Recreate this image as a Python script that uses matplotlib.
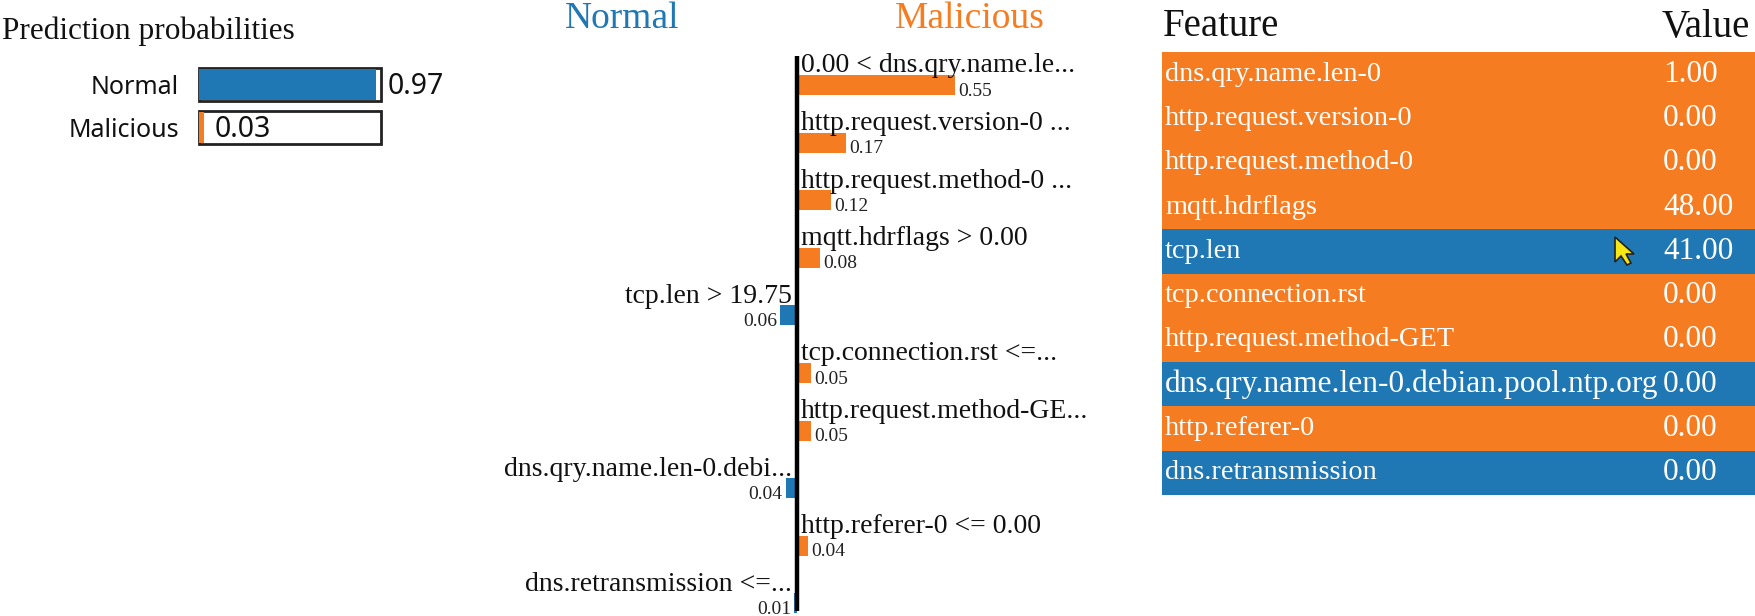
import matplotlib
matplotlib.use("Agg")
import matplotlib.pyplot as plt
from matplotlib.patches import Polygon

W, H = 1755, 616
BLUE = "#1f77b4"
ORANGE = "#f57c20"
SERIF = ["Liberation Serif", "DejaVu Serif"]
SANS = ["Noto Sans", "DejaVu Sans"]

classes = ["Normal", "Malicious"]
probabilities = [0.97, 0.03]

rule_labels = ["0.00 < dns.qry.name.le...", "http.request.version-0 ...", "http.request.method-0 ...",
               "mqtt.hdrflags > 0.00", "tcp.len > 19.75", "tcp.connection.rst <=...",
               "http.request.method-GE...", "dns.qry.name.len-0.debi...", "http.referer-0 <= 0.00",
               "dns.retransmission <=..."]
weights = [0.55, 0.17, 0.12, 0.08, -0.06, 0.05, 0.05, -0.04, 0.04, -0.01]

feature_names = ["dns.qry.name.len-0", "http.request.version-0", "http.request.method-0", "mqtt.hdrflags",
                 "tcp.len", "tcp.connection.rst", "http.request.method-GET",
                 "dns.qry.name.len-0.debian.pool.ntp.org", "http.referer-0", "dns.retransmission"]
feature_values = ["1.00", "0.00", "0.00", "48.00", "41.00", "0.00", "0.00", "0.00", "0.00", "0.00"]


def axes_px(x0, y0, x1, y1):
    ax = fig.add_axes([x0 / W, 1 - y1 / H, (x1 - x0) / W, (y1 - y0) / H])
    ax.set_axis_off()
    return ax


def px(pixels):
    return pixels * 72 / fig.dpi


fig = plt.figure(figsize=(W / 100, H / 100), dpi=100, facecolor="white")

# ---- left panel: prediction probabilities
fig.text(2 / W, 1 - 31 / H, "Prediction probabilities", family=SERIF, fontsize=22.5,
         color="#111111", ha="left", va="center")
ax = axes_px(199, 63, 381, 149)
ax.set_xlim(0, 1)
ax.set_ylim(1.5, -0.5)
colors = [BLUE, ORANGE]
for i, (c, p) in enumerate(zip(classes, probabilities)):
    ax.barh(i, 1, height=0.76, facecolor="white", edgecolor="#222222", linewidth=2.0, clip_on=False)
    ax.barh(i, p, height=0.72, color=colors[i], linewidth=0, clip_on=False)
    ax.annotate(c, (0, i), xytext=(px(-20), px(-3)), textcoords="offset points", family=SANS, fontsize=18,
                ha="right", va="center", color="#111111", annotation_clip=False)
ax.annotate(f"{probabilities[0]:.2f}", (1, 0), xytext=(px(7), px(-2)), textcoords="offset points",
            family=SANS, fontsize=20.5, ha="left", va="center", color="#111111", annotation_clip=False)
ax.annotate(f"{probabilities[1]:.2f}", (probabilities[1], 1), xytext=(px(10), px(-2)), textcoords="offset points",
            family=SANS, fontsize=20.5, ha="left", va="center", color="#111111", annotation_clip=False)

# ---- middle panel: local explanation
fig.text(622 / W, 1 - 19 / H, classes[0], family=SERIF, fontsize=27, color=BLUE, ha="center", va="center")
fig.text(970 / W, 1 - 19 / H, classes[1], family=SERIF, fontsize=27, color=ORANGE, ha="center", va="center")

row = 57.6
ax = axes_px(797, 56, 797 + 287, 611)
ax.set_xlim(0, 1)
ax.set_ylim((611 - 85) / row, (56 - 85) / row)
for i, (lab, w) in enumerate(zip(rule_labels, weights)):
    ax.barh(i, w, height=20 / row, color=ORANGE if w > 0 else BLUE, linewidth=0, clip_on=False)
    side = 1 if w > 0 else -1
    ax.annotate(lab, (0, i), xytext=(px(4 if w > 0 else -5), px(19)), textcoords="offset points",
                family=SERIF, fontsize=20, color="#111111", ha="left" if w > 0 else "right", va="center",
                annotation_clip=False)
    ax.annotate(f"{abs(w):.2f}", (w, i), xytext=(px(3 * side), px(-6)), textcoords="offset points",
                family=SERIF, fontsize=14, color="#222222", ha="left" if w > 0 else "right", va="center",
                annotation_clip=False)
ax.plot([0, 0], [0, 1], transform=ax.get_xaxis_transform(), color="black", lw=3.2, clip_on=False,
        solid_capstyle="butt")

# ---- right panel: feature table
fig.text(1163 / W, 1 - 27 / H, "Feature", family=SERIF, fontsize=28, color="#111111", ha="left", va="center")
fig.text(1662 / W, 1 - 27 / H, "Value", family=SERIF, fontsize=28, color="#111111", ha="left", va="center")
ax = axes_px(1162, 52, 1755, 495)
ax.set_xlim(0, 1)
ax.set_ylim(9.5, -0.5)
val_x = (1663 - 1162) / 593
for i, (name, val, w) in enumerate(zip(feature_names, feature_values, weights)):
    ax.barh(i, 1, height=1, color=ORANGE if w > 0 else BLUE, linewidth=0)
    ax.annotate(name, (0, i), xytext=(px(3), 0), textcoords="offset points", family=SERIF,
                fontsize=22.6 if len(name) > 30 else 20.4, color="white", ha="left", va="center")
    ax.annotate(val, (val_x, i), family=SERIF, fontsize=22.5, color="white", ha="left", va="center")

# mouse cursor captured in the screenshot
cursor = [(1615, 237), (1615, 262), (1621, 256), (1627, 265), (1631, 263), (1626, 254), (1634, 254)]
fig.add_artist(Polygon([(x / W, 1 - y / H) for x, y in cursor], closed=True, transform=fig.transFigure,
                       facecolor="#f5e616", edgecolor="#222222", linewidth=1.2, zorder=10))

fig.savefig("out.png", dpi=100)
